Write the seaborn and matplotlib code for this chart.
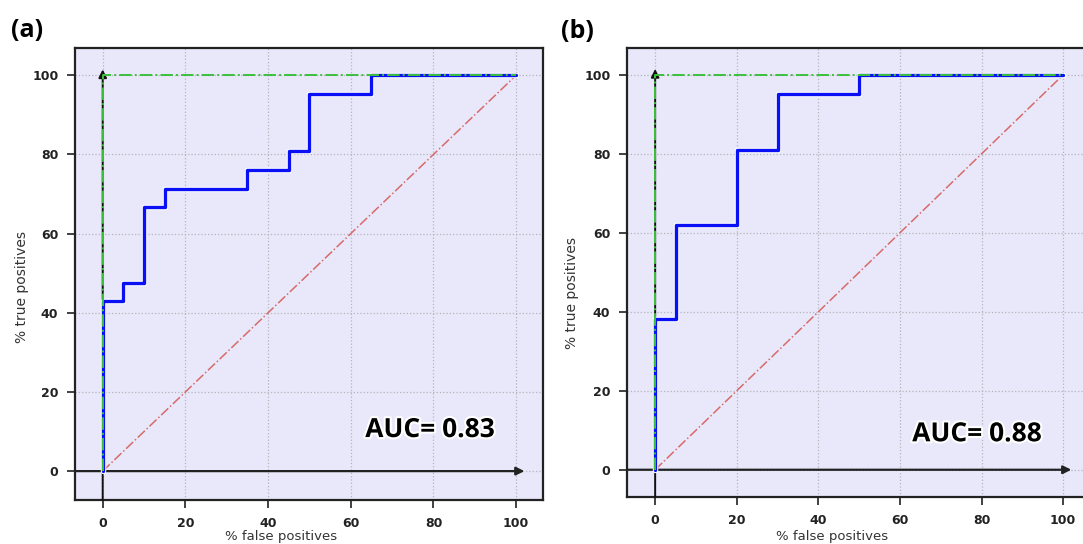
import numpy as np
import pandas as pd
import matplotlib
matplotlib.use("Agg")
import matplotlib.pyplot as plt
import matplotlib.patheffects as pe
import seaborn as sns

# ------------------------------------------------------------
# ROC curve data
# ------------------------------------------------------------
fpr_a = [0, 0, 5, 10, 15, 35, 45, 50, 65, 100]
tpr_a = [0, 42.9, 47.6, 66.7, 71.4, 76.2, 81.0, 95.2, 100, 100]

fpr_b = [0, 0, 5, 20, 30, 50, 100]
tpr_b = [0, 38.1, 61.9, 81.0, 95.2, 100, 100]

perfect_x = [0, 0, 100]
perfect_y = [0, 100, 100]
chance = [0, 100]

panel_labels = ["(a)", "(b)"]
auc_labels = ["AUC= 0.83", "AUC= 0.88"]
ticks = [0, 20, 40, 60, 80, 100]

sns.set_theme(style="white")
plt.rcParams["font.family"] = ["DejaVu Sans"]

fig = plt.figure(figsize=(10.83, 5.44), dpi=100)
W, H = 1083, 544

# axes boxes in pixels: left, top, right, bottom
boxes = [(75, 48, 543, 500), (627, 48, 1095, 497)]
xlims = [(-6.7, 106.5), (-6.9, 107.8)]
ylims = [(-7.3, 106.9), (-6.9, 106.8)]

curves = [(fpr_a, tpr_a), (fpr_b, tpr_b)]
label_pos = [(11, 37), (561, 38)]
auc_pos = [(63.5, 8.6), (63.0, 7.2)]
ylab_coords = [(-0.098, 0.472), (-0.103, 0.455)]
xlab_coords = [(0.44, -0.067), (0.438, -0.074)]

for i, (box, (fx, ty)) in enumerate(zip(boxes, curves)):
    l, t, r, b = box
    ax = fig.add_axes([l / W, 1 - b / H, (r - l) / W, (b - t) / H])
    ax.set_facecolor("#E8E8FA")
    x0, x1 = xlims[i]
    y0, y1 = ylims[i]

    roc = pd.DataFrame({"fpr": fx, "tpr": ty})
    sns.lineplot(data=roc, x="fpr", y="tpr", ax=ax, estimator=None, sort=False,
                 drawstyle="steps-post", color="#0A10F5", linewidth=2.4, zorder=4,
                 path_effects=[pe.Stroke(linewidth=3.9, foreground="white"), pe.Normal()])

    # black axis arrows
    ax.annotate("", xy=(0, 101.5), xytext=(0, y0), zorder=3,
                arrowprops=dict(arrowstyle="-|>", color="#111111", lw=1.4,
                                mutation_scale=12, shrinkA=0, shrinkB=0))
    ax.annotate("", xy=(102, 0), xytext=(x0, 0), zorder=3,
                arrowprops=dict(arrowstyle="-|>", color="#222222", lw=1.6,
                                mutation_scale=12, shrinkA=0, shrinkB=0))

    # perfect classifier and chance line
    sns.lineplot(x=perfect_x, y=perfect_y, ax=ax, estimator=None, sort=False,
                 color="#3CC03C", linewidth=1.4, linestyle="-.", zorder=5)
    sns.lineplot(x=chance, y=chance, ax=ax, estimator=None, sort=False,
                 color="#D86A6A", linewidth=1.1, linestyle="-.", zorder=2)

    ax.set_xlim(x0, x1)
    ax.set_ylim(y0, y1)
    ax.set_xticks(ticks)
    ax.set_yticks(ticks)
    ax.grid(True, color="#B4B4BC", linestyle=":", linewidth=0.9)
    ax.tick_params(axis="both", direction="out", length=6, width=1.3,
                   color="#333333", labelsize=9, labelcolor="#222222",
                   bottom=True, left=True, pad=6)
    for lab in ax.get_xticklabels() + ax.get_yticklabels():
        lab.set_fontweight("bold")
    for s in ax.spines.values():
        s.set_color("#222222")
        s.set_linewidth(1.6)

    ax.set_xlabel("% false positives", fontsize=9.5, color="#333333")
    ax.set_ylabel("% true positives", fontsize=10, color="#333333")
    ax.xaxis.set_label_coords(*xlab_coords[i])
    ax.yaxis.set_label_coords(*ylab_coords[i])

    ax.text(auc_pos[i][0], auc_pos[i][1], auc_labels[i], ha="left", va="baseline",
            fontsize=19, fontweight="bold", family="Open Sans", color="black",
            path_effects=[pe.withStroke(linewidth=3, foreground="white")], zorder=6)

    lx, ly = label_pos[i]
    fig.text(lx / W, 1 - ly / H, panel_labels[i], fontsize=18, fontweight="bold",
             family="Open Sans", color="black")

fig.savefig("out.png", dpi=100)
